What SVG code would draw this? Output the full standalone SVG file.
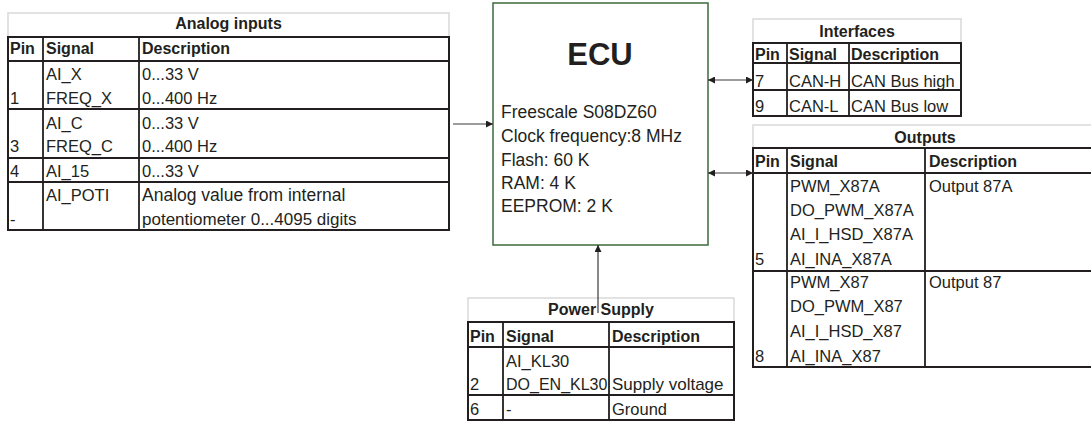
<svg xmlns="http://www.w3.org/2000/svg" width="1091" height="421" viewBox="0 0 1091 421">
<style>
text{font-family:"Liberation Sans",Arial,sans-serif;fill:#231f20;font-size:16.5px}
.b{font-weight:bold;font-size:16px}
.t{font-weight:bold;font-size:16px;text-anchor:middle}
.ttl{fill:none;stroke:#d9d9d9;stroke-width:1.5}
.box{fill:#fff;stroke:#231f20;stroke-width:2}
.g{stroke:#231f20;stroke-width:1.8;fill:none}
.ecu{fill:#fff;stroke:#3b6b3b;stroke-width:1.5}
.info{font-size:17.5px}
.conn{stroke:#3a3a3a;stroke-width:1.2;fill:none}
</style>
<defs>
<marker id="ah" viewBox="0 0 10 10" refX="10" refY="5" markerWidth="9" markerHeight="7" markerUnits="userSpaceOnUse" orient="auto-start-reverse">
<path d="M0,0 L10,5 L0,10 z" fill="#231f20"/>
</marker>
</defs>
<rect width="1091" height="421" fill="#fff"/>

<g id="analog-inputs">
<rect class="ttl" x="8" y="13" width="441" height="24"/>
<rect class="box" x="8" y="37" width="441" height="193"/>
<path class="g" d="M8,61H449M8,109H449M8,158H449M8,182H449M43,37V230M139,37V230"/>
<text class="t" x="228.5" y="29">Analog inputs</text>
<text class="b" x="10" y="54">Pin</text><text class="b" x="46" y="54">Signal</text><text class="b" x="142" y="54">Description</text>
<text x="46" y="80">AI_X</text><text x="142" y="80">0...33 V</text>
<text x="10" y="104">1</text><text x="46" y="104">FREQ_X</text><text x="142" y="104">0...400 Hz</text>
<text x="46" y="129">AI_C</text><text x="142" y="129">0...33 V</text>
<text x="10" y="152">3</text><text x="46" y="152">FREQ_C</text><text x="142" y="152">0...400 Hz</text>
<text x="10" y="177">4</text><text x="46" y="177">AI_15</text><text x="142" y="177">0...33 V</text>
<text x="46" y="201">AI_POTI</text><text x="142" y="201" style="font-size:17.5px">Analog value from internal</text>
<text x="10" y="225">-</text><text x="142" y="225" style="font-size:17px">potentiometer 0...4095 digits</text>
</g>

<g id="ecu">
<rect class="ecu" x="493" y="3" width="215" height="242"/>
<text class="t" x="600" y="65" style="font-size:31px">ECU</text>
<text class="info" x="501" y="118">Freescale S08DZ60</text>
<text class="info" x="501" y="142">Clock frequency:8 MHz</text>
<text class="info" x="501" y="166">Flash: 60 K</text>
<text class="info" x="501" y="189">RAM: 4 K</text>
<text class="info" x="501" y="212">EEPROM: 2 K</text>
</g>

<g id="interfaces">
<rect class="ttl" x="753" y="19" width="208" height="24"/>
<rect class="box" x="753" y="43" width="208" height="73"/>
<path class="g" d="M753,63H961M753,90H961M787,43V116M849,43V116"/>
<text class="t" x="857" y="37">Interfaces</text>
<text class="b" x="755" y="60">Pin</text><text class="b" x="789" y="60">Signal</text><text class="b" x="851" y="60">Description</text>
<text x="755" y="87">7</text><text x="789" y="87">CAN-H</text><text x="851" y="87">CAN Bus high</text>
<text x="755" y="112">9</text><text x="789" y="112">CAN-L</text><text x="851" y="112">CAN Bus low</text>
</g>

<g id="outputs">
<rect class="ttl" x="753" y="125" width="345" height="23"/>
<rect class="box" x="753" y="148" width="345" height="219"/>
<path class="g" d="M753,173H1098M753,271H1098M787,148V367M925,148V367"/>
<text class="t" x="925" y="143">Outputs</text>
<text class="b" x="755" y="167">Pin</text><text class="b" x="790" y="167">Signal</text><text class="b" x="929" y="167">Description</text>
<text x="790" y="192">PWM_X87A</text><text x="929" y="192">Output 87A</text>
<text x="790" y="216">DO_PWM_X87A</text>
<text x="790" y="240">AI_I_HSD_X87A</text>
<text x="755" y="265">5</text><text x="790" y="265">AI_INA_X87A</text>
<text x="790" y="288">PWM_X87</text><text x="929" y="288">Output 87</text>
<text x="790" y="312">DO_PWM_X87</text>
<text x="790" y="337">AI_I_HSD_X87</text>
<text x="755" y="362">8</text><text x="790" y="362">AI_INA_X87</text>
</g>

<g id="power-supply">
<rect class="ttl" x="468" y="298" width="266" height="24"/>
<rect class="box" x="468" y="322" width="266" height="98"/>
<path class="g" d="M468,347H734M468,395H734M503,322V420M609,322V420"/>
<text class="t" x="601" y="315">Power Supply</text>
<text class="b" x="470" y="342">Pin</text><text class="b" x="506" y="342">Signal</text><text class="b" x="612" y="342">Description</text>
<text x="506" y="367">AI_KL30</text>
<text x="470" y="390">2</text><text x="506" y="390" style="font-size:16px">DO_EN_KL30</text><text x="612" y="390" style="font-size:17px">Supply voltage</text>
<text x="470" y="415">6</text><text x="506" y="415">-</text><text x="612" y="415">Ground</text>
</g>

<g id="connectors">
<line class="conn" x1="453" y1="124" x2="493" y2="124" marker-end="url(#ah)"/>
<line class="conn" x1="708" y1="80" x2="753" y2="80" marker-start="url(#ah)" marker-end="url(#ah)"/>
<line class="conn" x1="708" y1="173" x2="753" y2="173" marker-start="url(#ah)" marker-end="url(#ah)"/>
<line class="conn" x1="598" y1="313" x2="598" y2="245" marker-end="url(#ah)"/>
</g>
</svg>
